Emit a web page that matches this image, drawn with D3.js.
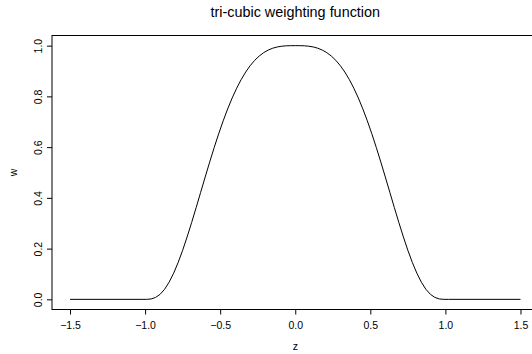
<!DOCTYPE html>
<html>
<head>
<meta charset="utf-8">
<script src="https://cdn.jsdelivr.net/npm/d3@7"></script>
<style>
  body { margin: 0; background: #fff; }
  svg { display: block; font-family: "Liberation Sans", Arial, sans-serif; }
</style>
</head>
<body>
<div id="chart"></div>
<script>
const WIDTH = 532;
const HEIGHT = 354;

// values (z, w)
const zValues = [-1.5, -1.02, -0.99, -0.96, -0.93, -0.90, -0.87, -0.84, -0.81, -0.78, -0.75,
  -0.72, -0.69, -0.66, -0.63, -0.60, -0.57, -0.54, -0.51, -0.48, -0.45, -0.42, -0.39, -0.36,
  -0.33, -0.30, -0.27, -0.24, -0.21, -0.18, -0.15, -0.12, -0.09, -0.06, -0.03, 0.00,
  0.03, 0.06, 0.09, 0.12, 0.15, 0.18, 0.21, 0.24, 0.27, 0.30, 0.33, 0.36, 0.39, 0.42, 0.45,
  0.48, 0.51, 0.54, 0.57, 0.60, 0.63, 0.66, 0.69, 0.72, 0.75, 0.78, 0.81, 0.84, 0.87, 0.90,
  0.93, 0.96, 0.99, 1.02, 1.5];
const wValues = [0, 0, 0.00003, 0.0015, 0.0075, 0.0199, 0.0398, 0.0676, 0.1029, 0.1451, 0.1932,
  0.2462, 0.3028, 0.3617, 0.4218, 0.4819, 0.5410, 0.5981, 0.6525, 0.7036, 0.7508, 0.7938, 0.8324, 0.8665,
  0.8960, 0.9212, 0.9421, 0.9591, 0.9725, 0.9826, 0.9899, 0.9948, 0.9978, 0.9994, 0.9999, 1.0,
  0.9999, 0.9994, 0.9978, 0.9948, 0.9899, 0.9826, 0.9725, 0.9591, 0.9421, 0.9212, 0.8960, 0.8665, 0.8324, 0.7938, 0.7508,
  0.7036, 0.6525, 0.5981, 0.5410, 0.4819, 0.4218, 0.3617, 0.3028, 0.2462, 0.1932, 0.1451, 0.1029, 0.0676, 0.0398, 0.0199,
  0.0075, 0.0015, 0.00003, 0, 0];

const xTicks = [-1.5, -1.0, -0.5, 0.0, 0.5, 1.0, 1.5];
const yTicks = [0.0, 0.2, 0.4, 0.6, 0.8, 1.0];

var data = zValues.map(function(z, i) { return { z: z, w: wValues[i] }; });

var svg = d3.select("#chart")
    .append("svg")
    .attr("width", WIDTH)
    .attr("height", HEIGHT);

// R style: 4% padding round the data range
var x = d3.scaleLinear().domain([-1.62, 1.62]).range([52, 538.5]);
var y = d3.scaleLinear().domain([-0.04, 1.04]).range([309.5, 35.5]);

// plot box
svg.append("rect")
    .attr("x", x(-1.62))
    .attr("y", y(1.04))
    .attr("width", x(1.62) - x(-1.62))
    .attr("height", y(-0.04) - y(1.04))
    .attr("fill", "none")
    .attr("stroke", "#000")
    .attr("stroke-width", 1);

// x axis
var xAxis = svg.append("g")
    .attr("transform", "translate(0," + y(-0.04) + ")")
    .call(d3.axisBottom(x).tickValues(xTicks).tickSize(5).tickPadding(7)
        .tickFormat(d3.format(".1f")));

// y axis
var yAxis = svg.append("g")
    .attr("transform", "translate(" + x(-1.62) + ",0)")
    .call(d3.axisLeft(y).tickValues(yTicks).tickSize(5).tickFormat(d3.format(".1f")));

[xAxis, yAxis].forEach(function(ax) {
    ax.select(".domain").remove();
    ax.selectAll(".tick line").attr("stroke", "#000");
    ax.selectAll("text")
        .attr("fill", "#000")
        .style("font-family", "Liberation Sans, Arial, sans-serif")
        .style("font-size", "10.5px");
});

// rotate y tick labels like R's default las=0
yAxis.selectAll(".tick text")
    .attr("x", null)
    .attr("dy", null)
    .attr("text-anchor", "middle")
    .attr("transform", "translate(-10,0) rotate(-90)");

// the curve
var line = d3.line()
    .x(function(d) { return x(d.z); })
    .y(function(d) { return y(d.w); });

svg.append("path")
    .datum(data)
    .attr("d", line)
    .attr("fill", "none")
    .attr("stroke", "#000")
    .attr("stroke-width", 1);

// titles
svg.append("text")
    .attr("x", (x(-1.62) + x(1.62)) / 2)
    .attr("y", 17)
    .attr("text-anchor", "middle")
    .style("font-size", "14.4px")
    .text("tri-cubic weighting function");

svg.append("text")
    .attr("x", (x(-1.62) + x(1.62)) / 2)
    .attr("y", 350)
    .attr("text-anchor", "middle")
    .style("font-size", "10.5px")
    .text("z");

svg.append("text")
    .attr("transform", "translate(17," + (y(-0.04) + y(1.04)) / 2 + ") rotate(-90)")
    .attr("text-anchor", "middle")
    .style("font-size", "10.5px")
    .text("w");
</script>
</body>
</html>
